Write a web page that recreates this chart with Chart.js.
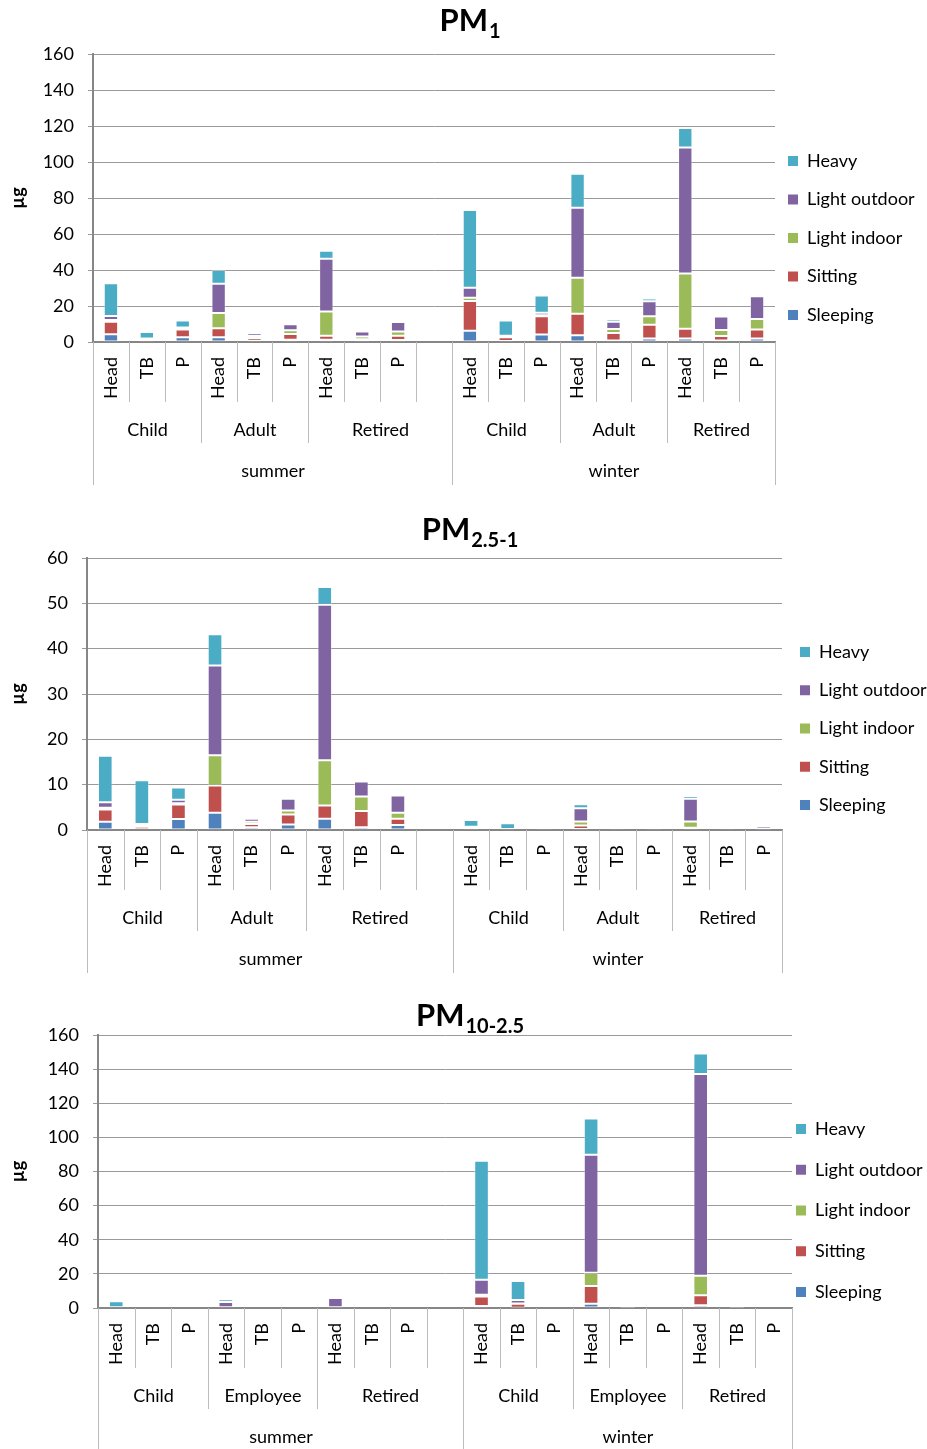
<!DOCTYPE html>
<html>
<head>
<meta charset="utf-8">
<title>Deposited PM dose by activity</title>
<script src="https://cdn.jsdelivr.net/npm/chart.js@4.4.0/dist/chart.umd.min.js"></script>
<style>
  body { margin: 0; background: #fff; }
  .panel { position: absolute; left: 0; }
</style>
</head>
<body>
<div class="panel" style="top:0"><canvas id="pm1" width="927" height="490"></canvas></div>
<div class="panel" style="top:490px"><canvas id="pm25" width="927" height="490"></canvas></div>
<div class="panel" style="top:980px"><canvas id="pm10" width="927" height="469"></canvas></div>
<script>
// categories
const tickLabels = ['Head', 'TB', 'P', 'Head', 'TB', 'P', 'Head', 'TB', 'P', '',
                    'Head', 'TB', 'P', 'Head', 'TB', 'P', 'Head', 'TB', 'P'];
const groupSizes = [3, 3, 4, 3, 3, 3];
const groupsAdult = ['Child', 'Adult', 'Retired', 'Child', 'Adult', 'Retired'];
const groupsEmployee = ['Child', 'Employee', 'Retired', 'Child', 'Employee', 'Retired'];
const seasons = ['summer', 'winter'];
const seasonSizes = [10, 9];
const activities = ['Sleeping', 'Sitting', 'Light indoor', 'Light outdoor', 'Heavy'];
const colors = ['#4f81bd', '#c0504d', '#9bbb59', '#8064a2', '#4bacc6'];

// PM1 (µg)
const pm1Sleeping     = [4.3, 0.3, 2.6, 2.6, 0.7, 1.3, 1.3, 0.7, 1.1, null, 6.3, 0.6, 4.1, 3.7, 0.9, 2.0, 2.0, 0.9, 2.0];
const pm1Sitting      = [7.0, 1.0, 4.3, 5.0, 1.5, 3.1, 2.2, 0.8, 2.4, null, 16.5, 2.0, 10.2, 12.0, 4.1, 7.6, 5.4, 2.4, 4.9];
const pm1LightIndoor  = [0.9, 0.3, 0.7, 8.5, 1.1, 2.1, 13.5, 1.6, 2.4, null, 1.8, 0.5, 0.5, 20.0, 2.2, 4.7, 30.6, 3.4, 5.9];
const pm1LightOutdoor = [2.2, 0.3, 0.5, 16.3, 1.5, 3.3, 29.3, 2.8, 5.2, null, 5.6, 0.4, 1.5, 38.9, 4.1, 8.3, 70.0, 7.4, 12.6];
const pm1Heavy        = [18.2, 3.6, 3.9, 7.6, 0.6, 0.8, 4.4, 0.6, 0.4, null, 43.1, 8.4, 9.6, 18.9, 1.3, 1.5, 10.9, 0.3, 0.9];

// PM2.5-1 (µg)
const pm25Sleeping     = [1.8, 0.15, 2.4, 3.8, 0.6, 1.2, 2.5, 0.6, 1.1, null, 0.1, 0.05, 0.1, 0.2, 0.05, 0.1, 0.2, 0.05, 0.05];
const pm25Sitting      = [2.7, 0.55, 3.2, 6.0, 0.7, 2.2, 2.9, 3.6, 1.4, null, 0.3, 0.05, 0.4, 0.8, 0.05, 0.2, 0.3, 0.05, 0.05];
const pm25LightIndoor  = [0.4, 0.2, 0.3, 6.7, 0.5, 0.9, 10.0, 3.2, 1.3, null, 0.1, 0.05, 0.05, 0.9, 0.05, 0.1, 1.4, 0.05, 0.2];
const pm25LightOutdoor = [1.2, 0.4, 0.8, 19.8, 0.7, 2.6, 34.3, 3.3, 3.8, null, 0.2, 0.05, 0.3, 2.9, 0.05, 0.4, 5.0, 0.1, 0.5];
const pm25Heavy        = [10.3, 9.7, 2.7, 6.9, 0.1, 0.3, 3.9, 0.2, 0.1, null, 1.5, 1.3, 0.3, 0.9, 0.05, 0.1, 0.6, 0.05, 0.05];

// PM10-2.5 (µg)
const pm10Sleeping     = [0.1, 0, 0, 0.1, 0, 0, 0.1, 0, 0, null, 1.2, 0.2, 0, 2.5, 0.05, 0, 1.6, 0.05, 0];
const pm10Sitting      = [0.1, 0, 0, 0.2, 0, 0, 0.1, 0, 0, null, 5.6, 2.3, 0, 10.4, 0.05, 0, 5.8, 0.1, 0];
const pm10LightIndoor  = [0.05, 0, 0, 0.2, 0, 0, 0.2, 0, 0, null, 1.0, 0.2, 0, 7.8, 0, 0, 11.5, 0.05, 0];
const pm10LightOutdoor = [0.2, 0, 0, 3.0, 0, 0, 5.5, 0, 0, null, 8.8, 2.0, 0, 69.1, 0.5, 0, 118.2, 0.5, 0];
const pm10Heavy        = [3.5, 0.4, 0, 1.6, 0, 0, 0.9, 0, 0, null, 69.7, 11.1, 0, 21.3, 0, 0, 12.1, 0.1, 0];

Chart.defaults.font.family = 'Lato, "Open Sans", sans-serif';
Chart.defaults.font.size = 18;
Chart.defaults.color = '#000';

// title with subscript + multi-level category axis underneath
const panelDecor = {
    id: 'panelDecor',
    afterDraw(chart, args, opts) {
        const { ctx, chartArea } = chart;
        const x = chart.scales.x;
        const step = x.getPixelForValue(1) - x.getPixelForValue(0);
        const edge = (i) => Math.round(x.getPixelForValue(i) - step / 2) + 0.5;
        const axisY = chartArea.bottom;
        const n = tickLabels.length;

        const groupStarts = [];
        let acc = 0;
        groupSizes.forEach((s) => { groupStarts.push(acc); acc += s; });
        const seasonStarts = [];
        acc = 0;
        seasonSizes.forEach((s) => { seasonStarts.push(acc); acc += s; });

        ctx.save();
        ctx.strokeStyle = '#bcbcbc';
        ctx.lineWidth = 1;
        for (let i = 0; i <= n; i++) {
            let depth = 60;
            if (groupStarts.includes(i)) depth = 101;
            if (seasonStarts.includes(i) || i === n) depth = 143;
            ctx.beginPath();
            ctx.moveTo(edge(i), axisY);
            ctx.lineTo(edge(i), axisY + depth);
            ctx.stroke();
        }

        ctx.fillStyle = '#000';
        ctx.font = '18px Lato, "Open Sans", sans-serif';
        ctx.textAlign = 'center';
        ctx.textBaseline = 'middle';
        groupStarts.forEach((s, k) => {
            const e = s + groupSizes[k];
            ctx.fillText(opts.groups[k], (edge(s) + edge(e)) / 2, axisY + 88);
        });
        seasonStarts.forEach((s, k) => {
            const e = s + seasonSizes[k];
            ctx.fillText(seasons[k], (edge(s) + edge(e)) / 2, axisY + 129);
        });

        // title "PM" + subscript
        ctx.textAlign = 'left';
        ctx.textBaseline = 'alphabetic';
        const mainFont = 'bold 31px Lato, "Open Sans", sans-serif';
        const subFont = 'bold 20px Lato, "Open Sans", sans-serif';
        ctx.font = mainFont;
        const wMain = ctx.measureText('PM').width;
        ctx.font = subFont;
        const wSub = ctx.measureText(opts.sub).width;
        const left = 470 - (wMain + 1 + wSub) / 2;
        ctx.font = mainFont;
        ctx.fillText('PM', left, opts.titleBase);
        ctx.font = subFont;
        ctx.fillText(opts.sub, left + wMain + 1, opts.titleBase + 7);
        ctx.restore();
    },
};

function buildChart(id, series, cfg) {
    const datasets = activities.map((name, i) => ({
        label: name,
        data: series[i],
        backgroundColor: colors[i],
        borderColor: 'rgba(255,255,255,0.35)',
        borderWidth: 1,
        borderSkipped: false,
        barPercentage: 0.4,
        categoryPercentage: 1,
    }));

    const legendWidth = 60;
    const chart = new Chart(document.getElementById(id), {
        type: 'bar',
        data: { labels: tickLabels, datasets: datasets },
        options: {
            responsive: false,
            animation: false,
            layout: { padding: { top: cfg.plotTop, right: 927 - cfg.plotRight - legendWidth, bottom: 0, left: 0 } },
            scales: {
                x: {
                    stacked: true,
                    grid: { display: false, drawTicks: false },
                    border: { display: true, color: '#868686', width: 2 },
                    ticks: { autoSkip: false, minRotation: 90, maxRotation: 90, padding: 15 },
                    afterFit: (scale) => { scale.height = cfg.xHeight; },
                },
                y: {
                    stacked: true,
                    min: 0,
                    max: cfg.yMax,
                    ticks: { stepSize: cfg.yStep, padding: 14 },
                    grid: { color: '#9a9a9a', tickLength: 5 },
                    border: { display: true, color: '#868686', width: 2 },
                    title: {
                        display: true,
                        text: 'µg',
                        font: { weight: 'bold', size: 18 },
                        padding: { top: 7, bottom: 0 },
                    },
                    afterFit: (scale) => { scale.width = cfg.plotLeft; },
                },
            },
            plugins: {
                tooltip: { enabled: false },
                legend: {
                    position: 'right',
                    align: 'start',
                    reverse: true,
                    maxWidth: legendWidth,
                    title: {
                        display: true,
                        text: ' ',
                        font: { size: 1, lineHeight: 1 },
                        padding: { top: cfg.legendSpacer - 1, bottom: 0 },
                    },
                    labels: {
                        boxWidth: 10,
                        boxHeight: 10,
                        padding: cfg.legendGap,
                        font: { size: 18, lineHeight: cfg.legendLine + 'px' },
                        generateLabels: (c) =>
                            Chart.defaults.plugins.legend.labels.generateLabels(c).map((item) => ({
                                ...item,
                                text: [item.text],
                                lineWidth: 0,
                                strokeStyle: 'rgba(0,0,0,0)',
                            })),
                    },
                },
                panelDecor: { groups: cfg.groups, sub: cfg.sub, titleBase: cfg.titleBase },
            },
        },
        plugins: [panelDecor],
    });
    // the legend box is kept narrow to fix the plot width; let its text run past it
    chart.legend.draw = function () {
        if (this.options.display) this._draw();
    };
    chart.draw();
    return chart;
}

buildChart('pm1',
    [pm1Sleeping, pm1Sitting, pm1LightIndoor, pm1LightOutdoor, pm1Heavy],
    { plotTop: 54, plotLeft: 93, plotRight: 775, xHeight: 148, yMax: 160, yStep: 20,
      legendGap: 13, legendLine: 25.5, legendSpacer: 85,
      groups: groupsAdult, sub: '1', titleBase: 31 });

buildChart('pm25',
    [pm25Sleeping, pm25Sitting, pm25LightIndoor, pm25LightOutdoor, pm25Heavy],
    { plotTop: 68, plotLeft: 87, plotRight: 782, xHeight: 150, yMax: 60, yStep: 10,
      legendGap: 18, legendLine: 20.25, legendSpacer: 67,
      groups: groupsAdult, sub: '2.5-1', titleBase: 50 });

buildChart('pm10',
    [pm10Sleeping, pm10Sitting, pm10LightIndoor, pm10LightOutdoor, pm10Heavy],
    { plotTop: 55, plotLeft: 98, plotRight: 792, xHeight: 141, yMax: 160, yStep: 20,
      legendGap: 4, legendLine: 36.75, legendSpacer: 81,
      groups: groupsEmployee, sub: '10-2.5', titleBase: 46 });
</script>
</body>
</html>
